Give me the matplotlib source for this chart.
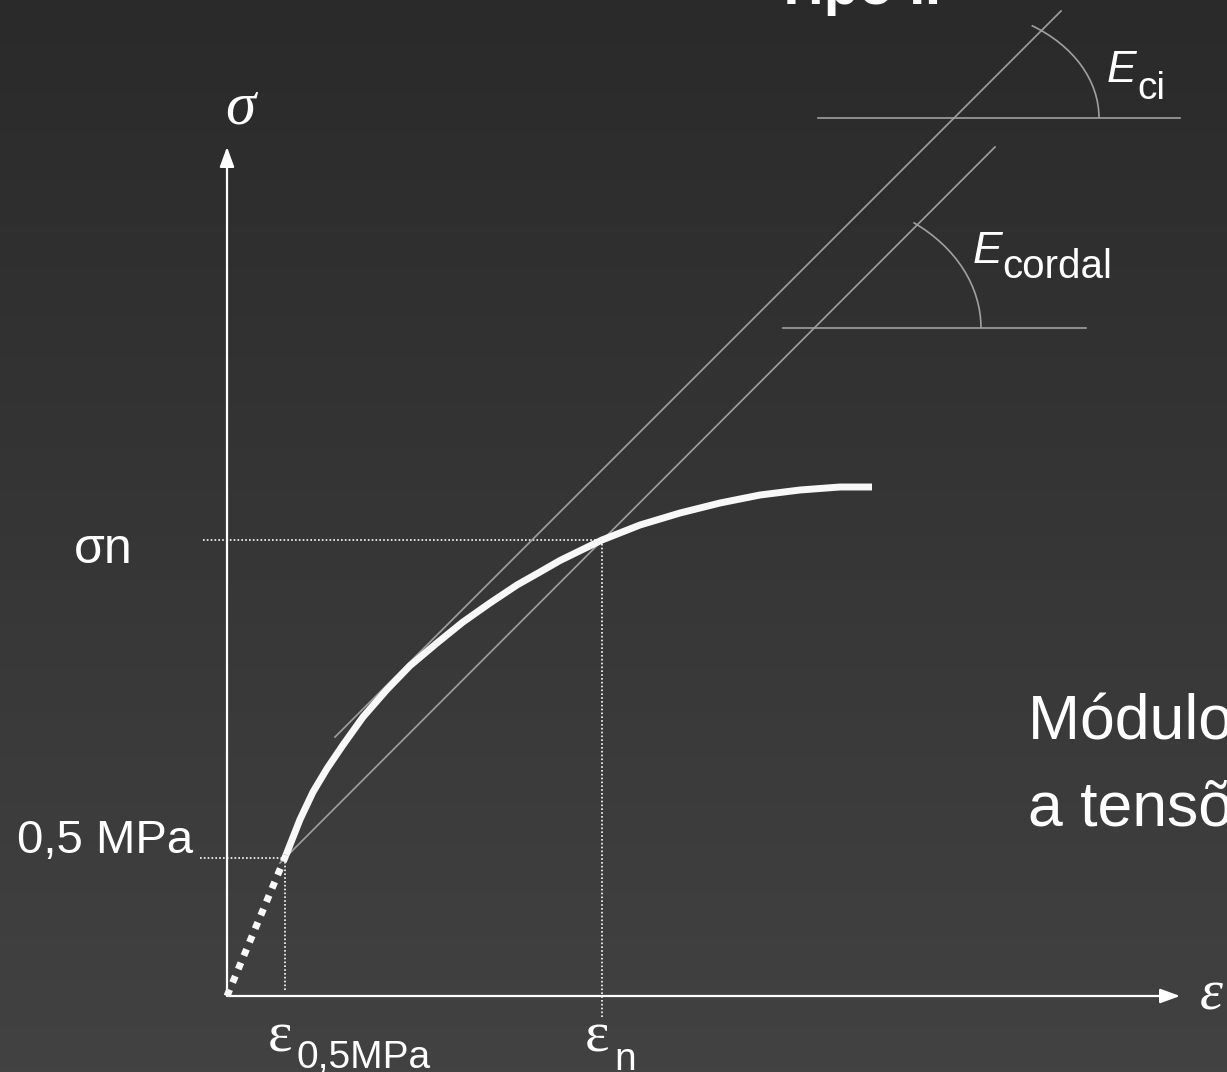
import numpy as np
import matplotlib
matplotlib.use('Agg')
import matplotlib.pyplot as plt
from matplotlib.patches import Arc

# stress-strain curve (chart units, origin at axes corner)
eps_curve = [59, 73, 86, 100, 116, 136, 160, 183, 210, 236, 263, 290, 313, 333,
             375, 413, 453, 493, 533, 573, 613, 645]
sig_curve = [141, 176.5, 204, 227.4, 251, 279, 306.5, 330.3, 353, 374, 393, 411, 424, 435.5,
             456, 471, 483, 493, 501, 506, 509, 509]
eps_start = [0, 59]
sig_start = [0, 141]

# reference points
eps_05, sig_05 = 58, 138
eps_n, sig_n = 375, 456

# tangent (E_ci) and chord (E_cordal) lines
eci_x = [108, 834]
eci_y = [259, 985]
cord_x = [53, 768]
cord_y = [133, 849]
eci_base_x, eci_base_y = [591, 953], 878
cord_base_x, cord_base_y = [556, 859], 668

W, H = 1227, 1072
X0, Y0 = 227, 996  # pixel position of the origin

fig = plt.figure(figsize=(W / 100, H / 100), dpi=100)
ax = fig.add_axes([0, 0, 1, 1])
ax.set_xlim(-X0, W - X0)
ax.set_ylim(Y0 - H, Y0)
ax.axis('off')

# background gradient
grad = np.linspace(0, 1, 256).reshape(-1, 1)
cmap = matplotlib.colors.LinearSegmentedColormap.from_list('bg', ['#2a2a2a', '#424242'])
ax.imshow(grad, cmap=cmap, extent=[-X0, W - X0, Y0 - H, Y0], aspect='auto', zorder=0, origin='upper')

grey = '#a0a0a0'
white = '#f8f8f8'

# axes with arrows
arr = dict(arrowstyle='-|>,head_length=0.6,head_width=0.22', color='white', lw=1.6,
           mutation_scale=20, shrinkA=0, shrinkB=0)
ax.annotate('', xy=(0, 849), xytext=(0, 0), arrowprops=arr, zorder=3)
ax.annotate('', xy=(953, 0), xytext=(0, 0), arrowprops=arr, zorder=3)

# dotted guides
dot = dict(color='white', lw=1.2, ls=(0, (1, 1.3)), zorder=2)
ax.plot([-24, eps_n], [sig_n, sig_n], **dot)
ax.plot([eps_n, eps_n], [sig_n, -22], **dot)
ax.plot([-27, eps_05], [sig_05, sig_05], **dot)
ax.plot([eps_05, eps_05], [sig_05, 6], **dot)

# modulus lines
ax.plot(eci_x, eci_y, color=grey, lw=1.2, zorder=2)
ax.plot(cord_x, cord_y, color=grey, lw=1.2, zorder=2)
ax.plot(eci_base_x, [eci_base_y] * 2, color=grey, lw=1.2, zorder=2)
ax.plot(cord_base_x, [cord_base_y] * 2, color=grey, lw=1.2, zorder=2)
ax.add_patch(Arc((727, eci_base_y), 290, 219, theta1=0, theta2=50, color=grey, lw=1.2, zorder=2))
ax.add_patch(Arc((588, cord_base_y), 332, 262, theta1=0, theta2=47, color=grey, lw=1.2, zorder=2))

# curve
ax.plot(eps_start, sig_start, color=white, lw=5, ls=(0, (1, 1.1)), zorder=4)
ax.plot(eps_curve, sig_curve, color=white, lw=5, solid_capstyle='butt',
        solid_joinstyle='round', zorder=4)

sans = 'Liberation Sans'
serif = 'Liberation Serif'
c = 'white'

ax.text(547, 992, 'Tipo II', family=sans, weight='bold', size=41, color=c, va='baseline')
ax.text(13, 873, 'σ', family=serif, style='italic', size=44, color=c, ha='center', va='baseline')
ax.text(973, -14, 'ε', family=serif, style='italic', size=42, color=c, va='baseline')
ax.text(-153, 433, 'σn', family=sans, size=36, color=c, va='baseline')
ax.text(-34, 143, '0,5 MPa', family=sans, size=34, color=c, ha='right', va='baseline')

ax.text(41, -56, 'ε', family=serif, size=42, color=c, va='baseline')
ax.text(70, -72, '0,5MPa', family=sans, size=28, color=c, va='baseline')
ax.text(358, -56, 'ε', family=serif, size=42, color=c, va='baseline')
ax.text(387, -74, 'n', family=sans, size=28, color=c, va='baseline')

ax.text(880, 914, 'E', family=sans, style='italic', size=32, color=c, va='baseline')
ax.text(910, 897, 'ci', family=sans, size=28, color=c, va='baseline')
ax.text(746, 733, 'E', family=sans, style='italic', size=32, color=c, va='baseline')
ax.text(775, 718, 'cordal', family=sans, size=29, color=c, va='baseline')

ax.text(801, 256, 'Módulo secante', family=sans, size=45, color=c, va='baseline')
ax.text(801, 171, 'a tensões', family=sans, size=45, color=c, va='baseline')

fig.savefig('out.png', dpi=100)
